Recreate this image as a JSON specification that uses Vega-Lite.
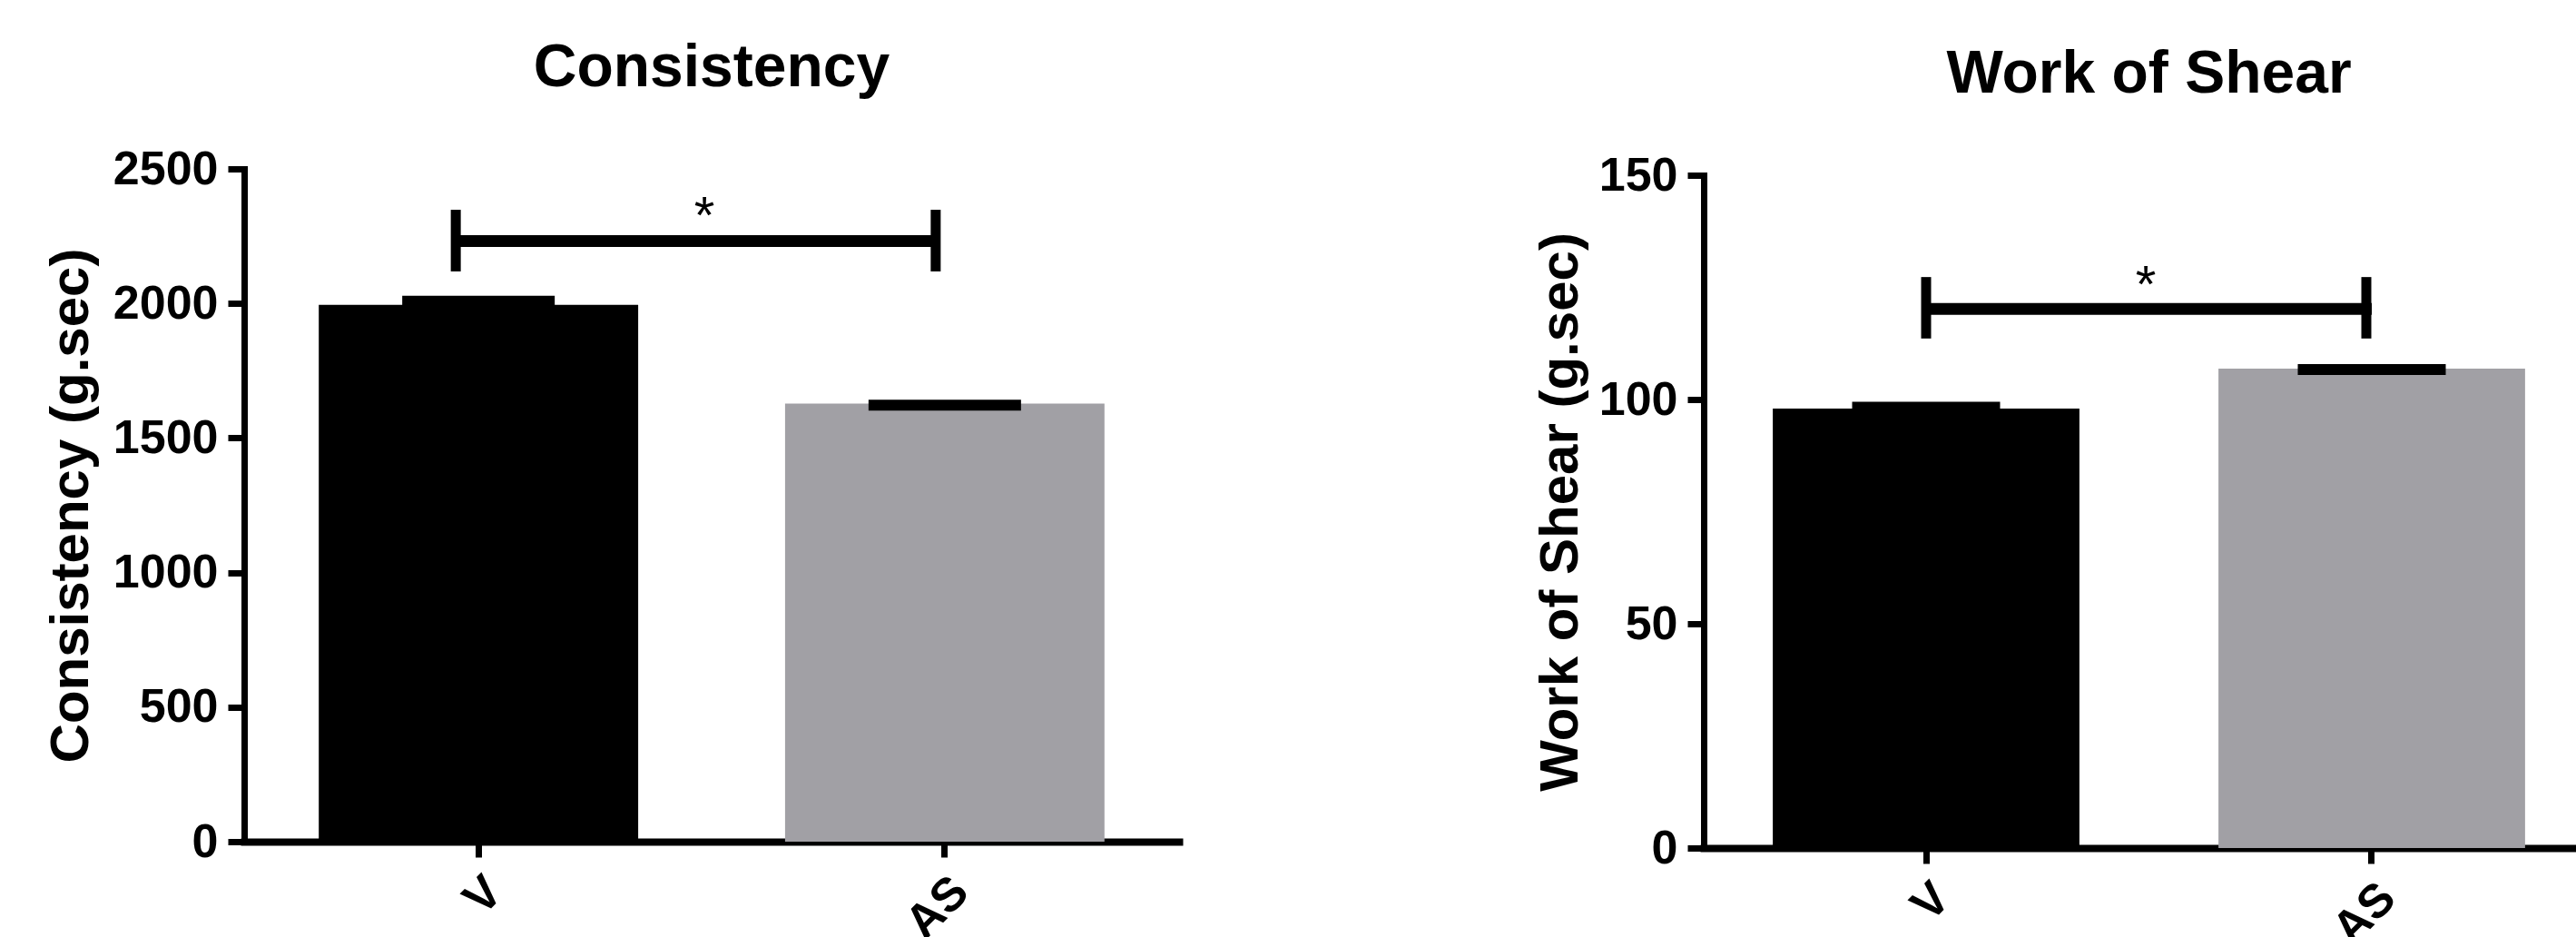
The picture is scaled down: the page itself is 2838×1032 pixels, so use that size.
{
  "$schema": "https://vega.github.io/schema/vega-lite/v6.json",
  "background": "white",
  "padding": {"left": 48, "top": 42, "right": 0, "bottom": 0},
  "spacing": 390,
  "config": {
    "view": {"stroke": null},
    "axis": {
      "grid": false,
      "domainColor": "black",
      "tickColor": "black",
      "labelColor": "black",
      "titleColor": "black",
      "labelFont": "Liberation Sans",
      "labelFontWeight": "bold",
      "titleFont": "Liberation Sans",
      "titleFontWeight": "bold",
      "domainCap": "square"
    },
    "axisY": {
      "domainWidth": 7,
      "tickWidth": 7,
      "tickSize": 18,
      "labelFontSize": 52,
      "labelPadding": 11,
      "titleFontSize": 60,
      "titlePadding": 15,
      "format": "d"
    },
    "axisX": {
      "domainWidth": 8,
      "tickWidth": 7,
      "tickSize": 17,
      "labelFontSize": 52,
      "labelPadding": 12,
      "labelAngle": -45
    },
    "title": {
      "font": "Liberation Sans",
      "fontWeight": "bold",
      "fontSize": 66,
      "color": "black",
      "frame": "group",
      "anchor": "middle",
      "baseline": "alphabetic",
      "offset": 51
    }
  },
  "datasets": {
    "consistency": [
      {"group": "V", "mean": 1995, "upper": 2008},
      {"group": "AS", "mean": 1628, "upper": 1622}
    ],
    "consistency_sig": [
      {"from": "V", "to": "AS", "y": 2232, "ylo": 2119, "yhi": 2348, "label": "*"}
    ],
    "shear": [
      {"group": "V", "mean": 98.0, "upper": 98.3},
      {"group": "AS", "mean": 106.9, "upper": 106.7}
    ],
    "shear_sig": [
      {"from": "V", "to": "AS", "y": 120.2, "ylo": 113.6, "yhi": 127.3, "label": "*"}
    ]
  },
  "hconcat": [
    {
      "width": 1030,
      "height": 741,
      "title": {"text": "Consistency"},
      "layer": [
        {
          "data": {"name": "consistency"},
          "mark": {"type": "bar"},
          "encoding": {
            "x": {"field": "group", "type": "nominal", "title": null, "scale": {"domain": ["V", "AS"], "paddingInner": 0.315, "paddingOuter": 0.16}},
            "y": {"field": "mean", "type": "quantitative", "title": "Consistency (g.sec)", "scale": {"domain": [0, 2500], "nice": false}, "axis": {"values": [0, 500, 1000, 1500, 2000, 2500]}},
            "color": {"field": "group", "type": "nominal", "legend": null, "scale": {"domain": ["V", "AS"], "range": ["#000000", "#a1a0a5"]}}
          }
        },
        {
          "data": {"name": "consistency"},
          "mark": {"type": "tick", "color": "black", "size": 168, "thickness": 12, "opacity": 1},
          "encoding": {
            "x": {"field": "group", "type": "nominal", "title": null, "scale": {"domain": ["V", "AS"]}},
            "y": {"field": "upper", "type": "quantitative", "title": "Consistency (g.sec)", "scale": {"domain": [0, 2500], "nice": false}}
          }
        },
        {
          "data": {"name": "consistency_sig"},
          "mark": {"type": "rule", "color": "black", "strokeWidth": 13, "xOffset": -25, "x2Offset": -10},
          "encoding": {
            "x": {"field": "from", "type": "nominal", "title": null, "scale": {"domain": ["V", "AS"]}},
            "x2": {"field": "to"},
            "y": {"field": "y", "type": "quantitative", "title": "Consistency (g.sec)", "scale": {"domain": [0, 2500], "nice": false}}
          }
        },
        {
          "data": {"name": "consistency_sig"},
          "mark": {"type": "rule", "color": "black", "strokeWidth": 11, "xOffset": -25},
          "encoding": {
            "x": {"field": "from", "type": "nominal", "title": null, "scale": {"domain": ["V", "AS"]}},
            "y": {"field": "ylo", "type": "quantitative", "title": "Consistency (g.sec)", "scale": {"domain": [0, 2500], "nice": false}},
            "y2": {"field": "yhi"}
          }
        },
        {
          "data": {"name": "consistency_sig"},
          "mark": {"type": "rule", "color": "black", "strokeWidth": 11, "xOffset": -10},
          "encoding": {
            "x": {"field": "to", "type": "nominal", "title": null, "scale": {"domain": ["V", "AS"]}},
            "y": {"field": "ylo", "type": "quantitative", "title": "Consistency (g.sec)", "scale": {"domain": [0, 2500], "nice": false}},
            "y2": {"field": "yhi"}
          }
        },
        {
          "data": {"name": "consistency_sig"},
          "mark": {"type": "text", "font": "Liberation Sans", "fontSize": 58, "color": "black", "baseline": "alphabetic", "align": "center", "dx": 249, "dy": -8},
          "encoding": {
            "x": {"field": "from", "type": "nominal", "title": null, "scale": {"domain": ["V", "AS"]}},
            "y": {"field": "y", "type": "quantitative", "title": "Consistency (g.sec)", "scale": {"domain": [0, 2500], "nice": false}},
            "text": {"field": "label"}
          }
        }
      ]
    },
    {
      "width": 981,
      "height": 748,
      "title": {"text": "Work of Shear"},
      "layer": [
        {
          "data": {"name": "shear"},
          "mark": {"type": "bar"},
          "encoding": {
            "x": {"field": "group", "type": "nominal", "title": null, "scale": {"domain": ["V", "AS"], "paddingInner": 0.312, "paddingOuter": 0.155}},
            "y": {"field": "mean", "type": "quantitative", "title": "Work of Shear (g.sec)", "scale": {"domain": [0, 150], "nice": false, "range": [748, 7]}, "axis": {"values": [0, 50, 100, 150], "titlePadding": 11}},
            "color": {"field": "group", "type": "nominal", "legend": null, "scale": {"domain": ["V", "AS"], "range": ["#000000", "#a1a0a5"]}}
          }
        },
        {
          "data": {"name": "shear"},
          "mark": {"type": "tick", "color": "black", "size": 163, "thickness": 12, "opacity": 1},
          "encoding": {
            "x": {"field": "group", "type": "nominal", "title": null, "scale": {"domain": ["V", "AS"]}},
            "y": {"field": "upper", "type": "quantitative", "title": "Work of Shear (g.sec)", "scale": {"domain": [0, 150], "nice": false, "range": [748, 7]}}
          }
        },
        {
          "data": {"name": "shear_sig"},
          "mark": {"type": "rule", "color": "black", "strokeWidth": 13},
          "encoding": {
            "x": {"field": "from", "type": "nominal", "title": null, "scale": {"domain": ["V", "AS"]}},
            "x2": {"field": "to"},
            "y": {"field": "y", "type": "quantitative", "title": "Work of Shear (g.sec)", "scale": {"domain": [0, 150], "nice": false, "range": [748, 7]}}
          }
        },
        {
          "data": {"name": "shear_sig"},
          "mark": {"type": "rule", "color": "black", "strokeWidth": 11},
          "encoding": {
            "x": {"field": "from", "type": "nominal", "title": null, "scale": {"domain": ["V", "AS"]}},
            "y": {"field": "ylo", "type": "quantitative", "title": "Work of Shear (g.sec)", "scale": {"domain": [0, 150], "nice": false, "range": [748, 7]}},
            "y2": {"field": "yhi"}
          }
        },
        {
          "data": {"name": "shear_sig"},
          "mark": {"type": "rule", "color": "black", "strokeWidth": 11, "xOffset": -6},
          "encoding": {
            "x": {"field": "to", "type": "nominal", "title": null, "scale": {"domain": ["V", "AS"]}},
            "y": {"field": "ylo", "type": "quantitative", "title": "Work of Shear (g.sec)", "scale": {"domain": [0, 150], "nice": false, "range": [748, 7]}},
            "y2": {"field": "yhi"}
          }
        },
        {
          "data": {"name": "shear_sig"},
          "mark": {"type": "text", "font": "Liberation Sans", "fontSize": 58, "color": "black", "baseline": "alphabetic", "align": "center", "dx": 242, "dy": -7},
          "encoding": {
            "x": {"field": "from", "type": "nominal", "title": null, "scale": {"domain": ["V", "AS"]}},
            "y": {"field": "y", "type": "quantitative", "title": "Work of Shear (g.sec)", "scale": {"domain": [0, 150], "nice": false, "range": [748, 7]}},
            "text": {"field": "label"}
          }
        }
      ]
    }
  ]
}
